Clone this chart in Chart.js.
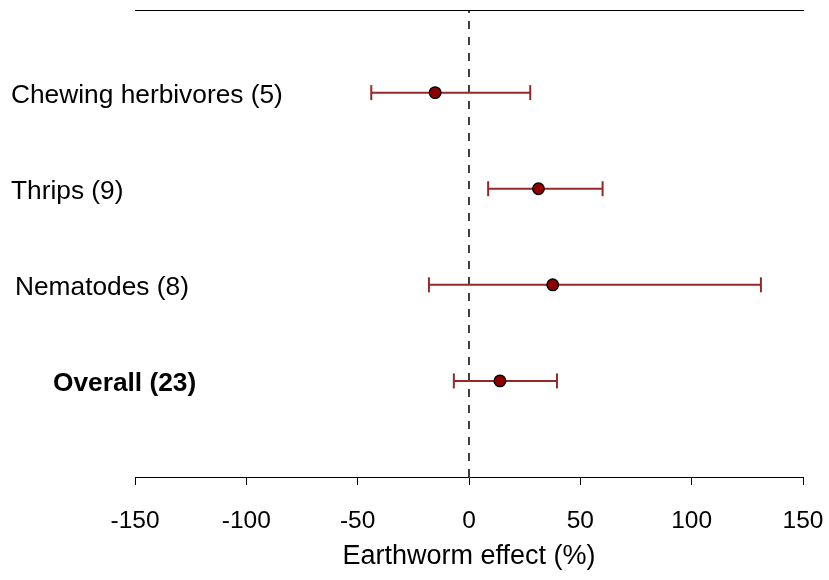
<!DOCTYPE html>
<html><head><meta charset="utf-8">
<script src="https://cdn.jsdelivr.net/npm/chart.js@4/dist/chart.umd.min.js"></script>
<style>html,body{margin:0;padding:0;background:#fff}#wrap{width:829px;height:580px}</style>
</head><body><div id="wrap"><canvas id="c" width="829" height="580"></canvas></div>
<script>
const categories = ["Chewing herbivores (5)", "Thrips (9)", "Nematodes (8)", "Overall (23)"];
const rowPositions = [4, 3, 2, 1];
const meanEffect = [-15.2, 31.2, 37.6, 13.9];
const lowerCI = [-43.9, 8.6, -18.0, -6.8];
const upperCI = [27.5, 60.0, 131.1, 39.5];
const xTicks = [-150, -100, -50, 0, 50, 100, 150];
const boldRows = [false, false, false, true];

const FONT = '"Liberation Sans", Arial, Helvetica, sans-serif';
const BAR = 'rgb(150,40,40)';
const DOT = '#8B0000';

const datasets = [];
// zero reference line
datasets.push({
  type: 'line', data: [{x: 0, y: 0}, {x: 0, y: 4.86}],
  borderColor: '#000', borderWidth: 1.5, borderDash: [8, 8],
  pointRadius: 0, fill: false, clip: false, order: 5
});
// CI lines
categories.forEach((c, i) => {
  datasets.push({
    type: 'line', data: [{x: lowerCI[i], y: rowPositions[i]}, {x: upperCI[i], y: rowPositions[i]}],
    borderColor: BAR, borderWidth: 2, pointRadius: 0, fill: false, clip: false, order: 4
  });
});
// caps
const caps = [];
categories.forEach((c, i) => { caps.push({x: lowerCI[i], y: rowPositions[i]}); caps.push({x: upperCI[i], y: rowPositions[i]}); });
datasets.push({
  type: 'scatter', data: caps, pointStyle: 'line', rotation: 90, pointRadius: 7.5,
  borderColor: BAR, borderWidth: 2, clip: false, order: 3
});
// means
datasets.push({
  type: 'scatter', data: categories.map((c, i) => ({x: meanEffect[i], y: rowPositions[i]})),
  pointStyle: 'circle', pointRadius: 5.8, backgroundColor: DOT, borderColor: '#000', borderWidth: 1.3,
  clip: false, order: 1
});

const rowLabels = {
  id: 'rowLabels',
  afterDatasetsDraw(chart, args, opts) {
    const ctx = chart.ctx, ys = chart.scales.y;
    ctx.save();
    ctx.fillStyle = '#000';
    ctx.textAlign = 'left';
    ctx.textBaseline = 'alphabetic';
    categories.forEach((c, i) => {
      ctx.font = (boldRows[i] ? 'bold ' : '') + opts.size + 'px ' + FONT;
      ctx.fillText(c, opts.indent[i], ys.getPixelForValue(rowPositions[i]) + opts.baselineShift);
    });
    ctx.restore();
  }
};

new Chart(document.getElementById('c'), {
  type: 'scatter',
  data: { datasets },
  options: {
    responsive: false, animation: false, devicePixelRatio: 1,
    layout: { padding: { left: 135, right: 26, top: 10, bottom: 0 } },
    plugins: {
      legend: { display: false }, tooltip: { enabled: false },
      rowLabels: { size: 26.3, indent: [11, 11, 15, 53], baselineShift: 10 }
    },
    scales: {
      x: {
        type: 'linear', position: 'bottom', min: -150, max: 150,
        afterBuildTicks: s => { s.ticks = xTicks.map(v => ({value: v})); },
        afterFit: s => { s.height = 103; s.paddingLeft = 0; s.paddingRight = 0; },
        ticks: { color: '#000', font: { family: FONT, size: 24.5 }, padding: 22, maxRotation: 0 },
        grid: { display: true, drawOnChartArea: false, drawTicks: true, tickLength: 8, color: '#000', tickWidth: 1 },
        border: { display: true, color: '#000', width: 1 },
        title: { display: true, text: 'Earthworm effect (%)', color: '#000', font: { family: FONT, size: 27 }, padding: { top: 0, bottom: 7 } }
      },
      x2: {
        type: 'linear', position: 'top', min: -150, max: 150,
        afterFit: s => { s.height = 0; s.paddingLeft = 0; s.paddingRight = 0; },
        ticks: { display: false },
        grid: { display: true, drawOnChartArea: false, drawTicks: false },
        border: { display: true, color: '#000', width: 1 }
      },
      y: { type: 'linear', min: 0, max: 4.86, display: false }
    }
  },
  plugins: [rowLabels]
});
</script>
</body></html>
